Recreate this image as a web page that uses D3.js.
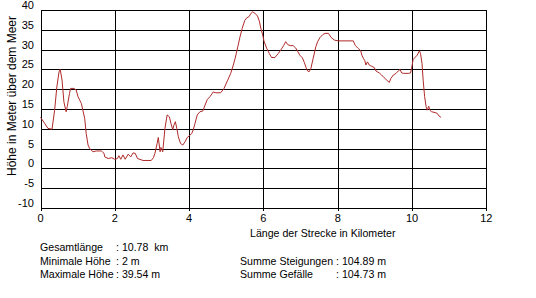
<!DOCTYPE html>
<html>
<head>
<meta charset="utf-8">
<script src="https://cdn.jsdelivr.net/npm/d3@7"></script>
<style>
  body { margin: 0; background: #fff; }
  svg { display: block; font-family: "Liberation Sans", Arial, sans-serif; font-size: 11px; }
  .grid line, .grid path { stroke: #000; shape-rendering: crispEdges; }
  .info text { font-size: 10.6px; white-space: pre; }
</style>
</head>
<body>
<div id="chart"></div>
<script>

// Höhenprofil: distance in km and elevation in m
const km = [
  0.00, 0.11, 0.20, 0.31, 0.38, 0.44, 0.50, 0.53, 0.58, 0.63, 0.69, 0.72, 0.78, 0.81, 0.90, 0.96,
  1.01, 1.10, 1.14, 1.19, 1.23, 1.28, 1.32, 1.41, 1.50, 1.64, 1.71, 1.73, 1.82, 1.92, 2.00, 2.07,
  2.11, 2.16, 2.22, 2.28, 2.36, 2.43, 2.49, 2.55, 2.61, 2.76, 2.98, 3.04, 3.08, 3.14, 3.17, 3.22,
  3.24, 3.29, 3.35, 3.41, 3.47, 3.51, 3.56, 3.59, 3.63, 3.67, 3.71, 3.77, 3.83, 3.89, 3.95, 4.00,
  4.07, 4.11, 4.16, 4.22, 4.29, 4.37, 4.43, 4.49, 4.56, 4.65, 4.72, 4.85, 4.94, 5.03, 5.12, 5.19,
  5.24, 5.31, 5.37, 5.43, 5.50, 5.55, 5.61, 5.67, 5.71, 5.77, 5.84, 5.89, 5.93, 5.98, 6.02, 6.09,
  6.16, 6.22, 6.31, 6.40, 6.49, 6.55, 6.60, 6.65, 6.72, 6.80, 6.87, 6.92, 6.98, 7.05, 7.10, 7.15,
  7.19, 7.23, 7.28, 7.34, 7.41, 7.46, 7.52, 7.60, 7.66, 7.75, 7.82, 7.91, 8.02, 8.42, 8.47, 8.55,
  8.62, 8.65, 8.69, 8.73, 8.76, 8.80, 8.85, 8.91, 8.98, 9.03, 9.12, 9.18, 9.25, 9.32, 9.39, 9.43,
  9.50, 9.57, 9.63, 9.68, 9.72, 9.78, 9.90, 9.96, 9.99, 10.03, 10.08, 10.14, 10.20, 10.23, 10.27, 10.30,
  10.34, 10.38, 10.41, 10.45, 10.48, 10.53, 10.62, 10.68, 10.73, 10.78
]
const hoehe = [
  12.9, 11.4, 10.1, 9.9, 14.7, 20.6, 24.4, 25.0, 22.3, 16.8, 14.3, 15.6, 18.9, 20.2, 20.2, 19.8,
  18.1, 16.4, 14.7, 12.6, 8.8, 5.9, 5.1, 4.2, 4.4, 4.4, 3.8, 2.9, 2.5, 2.7, 2.3, 2.5,
  3.2, 2.3, 3.4, 2.3, 3.6, 2.9, 3.9, 3.8, 2.5, 2.0, 2.0, 2.7, 3.8, 6.3, 7.8, 4.2,
  5.3, 4.2, 10.1, 13.5, 13.0, 11.4, 9.8, 10.9, 11.8, 10.1, 8.0, 6.3, 5.9, 6.7, 7.8, 8.2,
  8.8, 9.7, 11.4, 13.5, 14.3, 14.5, 16.0, 17.4, 18.1, 19.3, 19.1, 19.1, 20.2, 22.1, 24.0, 26.1,
  27.8, 30.7, 33.2, 35.4, 37.4, 38.0, 38.3, 39.2, 39.54, 39.2, 38.5, 37.2, 35.4, 33.7, 32.0, 30.3,
  29.0, 28.0, 28.0, 29.0, 30.2, 31.1, 32.0, 31.3, 31.0, 31.0, 30.4, 29.6, 28.6, 27.9, 26.8, 25.4,
  24.6, 24.4, 25.3, 27.8, 30.7, 32.0, 33.0, 33.8, 34.1, 34.1, 33.1, 32.4, 32.2, 32.2, 31.1, 30.3,
  29.7, 28.6, 27.8, 27.2, 26.1, 26.9, 26.1, 25.8, 25.5, 24.6, 24.1, 23.6, 22.9, 22.3, 21.7, 22.7,
  23.6, 24.0, 24.6, 25.0, 24.1, 24.0, 24.0, 24.1, 25.3, 27.5, 28.0, 28.6, 29.7, 29.0, 26.5, 22.3,
  18.1, 15.6, 14.7, 15.7, 14.7, 14.3, 14.1, 13.9, 13.2, 12.9
]

const xTicks = [0, 2, 4, 6, 8, 10, 12]
const yTicks = [-10, -5, 0, 5, 10, 15, 20, 25, 30, 35, 40]

const xTitle = 'Länge der Strecke in Kilometer'
const yTitle = 'Höhe in Meter über dem Meer'

const statLabels = ['Gesamtlänge', 'Minimale Höhe', 'Maximale Höhe']
const statValues = [': 10.78  km', ': 2 m', ': 39.54 m']
const sumLabels = ['Summe Steigungen', 'Summe Gefälle']
const sumValues = [': 104.89 m', ': 104.73 m']


const W = 536, H = 298
const plot = { left: 40.5, right: 486.3, top: 10, bottom: 208 }

const svg = d3.select('#chart').append('svg')
  .attr('width', W)
  .attr('height', H)

const x = d3.scaleLinear().domain([0, 12]).range([plot.left, plot.right])
const y = d3.scaleLinear().domain([-10, 40]).range([plot.bottom, plot.top])

// grid + axes

svg.append('g')
  .attr('class', 'grid')
  .attr('transform', 'translate(0,' + plot.bottom + ')')
  .call(d3.axisBottom(x).tickValues(xTicks).tickSize(-(plot.bottom - plot.top)).tickSizeOuter(0).tickFormat(''))
  .call(g => g.select('.domain').remove())

svg.append('g')
  .attr('class', 'grid')
  .attr('transform', 'translate(' + plot.left + ',0)')
  .call(d3.axisRight(y).tickValues(yTicks).tickSize(plot.right - plot.left).tickSizeOuter(0).tickFormat(''))
  .call(g => g.select('.domain').remove())

// small ticks below the x axis
svg.append('g')
  .attr('class', 'grid')
  .selectAll('line')
  .data(xTicks)
  .enter().append('line')
    .attr('x1', d => Math.round(x(d)) + 0.5)
    .attr('x2', d => Math.round(x(d)) + 0.5)
    .attr('y1', plot.bottom)
    .attr('y2', plot.bottom + 3)

svg.append('g')
  .selectAll('text')
  .data(xTicks)
  .enter().append('text')
    .attr('x', d => x(d))
    .attr('y', 222)
    .attr('text-anchor', 'middle')
    .text(d => d)

svg.append('g')
  .selectAll('text')
  .data(yTicks)
  .enter().append('text')
    .attr('x', 34)
    .attr('y', d => y(d) - 1)
    .attr('text-anchor', 'end')
    .text(d => d)

// profile line

const line = d3.line()
  .x((d, i) => x(km[i]))
  .y(d => y(d))

svg.append('path')
  .datum(hoehe)
  .attr('d', line)
  .attr('fill', 'none')
  .attr('stroke', '#b02a2a')
  .attr('stroke-width', 1)

// titles

svg.append('text')
  .attr('x', 250)
  .attr('y', 237)
  .style('font-size', '10.6px')
  .text(xTitle)

svg.append('text')
  .attr('transform', 'translate(16,96) rotate(-90)')
  .attr('text-anchor', 'middle')
  .style('font-size', '12px')
  .text(yTitle)

// stats below the chart

const rowY = [251, 265, 278]
const info = svg.append('g').attr('class', 'info')

info.selectAll('.lbl')
  .data(statLabels)
  .enter().append('text')
    .attr('class', 'lbl')
    .attr('x', 40)
    .attr('y', (d, i) => rowY[i])
    .text(d => d)

info.selectAll('.val')
  .data(statValues)
  .enter().append('text')
    .attr('class', 'val')
    .attr('x', 116)
    .attr('y', (d, i) => rowY[i])
    .text(d => d)

info.selectAll('.slbl')
  .data(sumLabels)
  .enter().append('text')
    .attr('class', 'slbl')
    .attr('x', 240)
    .attr('y', (d, i) => rowY[i + 1])
    .text(d => d)

info.selectAll('.sval')
  .data(sumValues)
  .enter().append('text')
    .attr('class', 'sval')
    .attr('x', 336)
    .attr('y', (d, i) => rowY[i + 1])
    .text(d => d)

</script>
</body>
</html>
